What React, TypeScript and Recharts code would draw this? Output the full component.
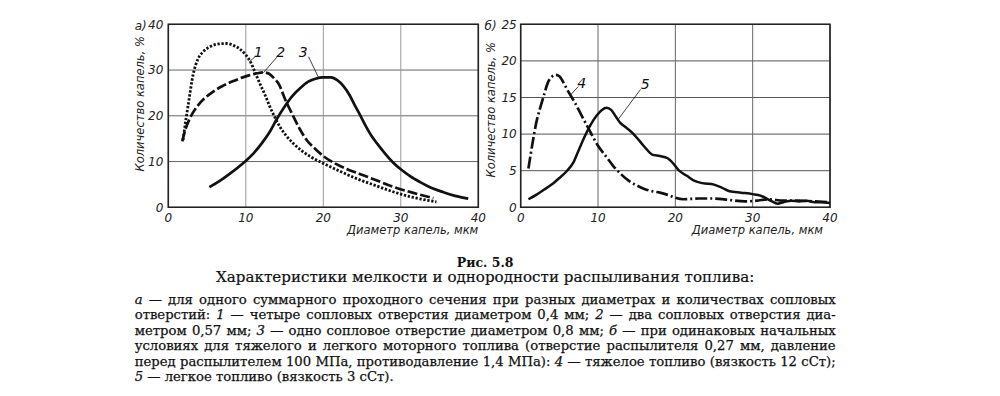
import React from 'react';
import { LineChart, Line, XAxis, YAxis, CartesianGrid, ReferenceArea, ReferenceDot, ReferenceLine } from 'recharts';

// ---- Chart а) ----
const xTicksA = [0, 10, 20, 30, 40];
const yTicksA = [0, 10, 20, 30, 40];
const curve1 = [
  { d: 1.9, n: 14.7 }, { d: 2.3, n: 19.5 }, { d: 2.6, n: 22.7 }, { d: 3.2, n: 29.0 }, { d: 3.8, n: 32.3 },
  { d: 4.5, n: 34.0 }, { d: 5.5, n: 35.2 }, { d: 6.5, n: 35.7 }, { d: 7.5, n: 35.8 }, { d: 8.4, n: 35.4 },
  { d: 9.3, n: 34.5 }, { d: 10.0, n: 33.3 }, { d: 10.6, n: 31.8 }, { d: 11.2, n: 29.5 }, { d: 11.8, n: 27.1 },
  { d: 12.5, n: 24.5 }, { d: 13.1, n: 22.0 }, { d: 13.8, n: 19.5 }, { d: 14.4, n: 17.6 }, { d: 15.2, n: 15.7 },
  { d: 16.1, n: 14.0 }, { d: 17.2, n: 12.4 }, { d: 18.3, n: 11.1 }, { d: 20.0, n: 9.6 }, { d: 22.0, n: 8.0 },
  { d: 24.7, n: 6.0 }, { d: 26.5, n: 4.9 }, { d: 29.0, n: 3.4 }, { d: 31.5, n: 2.2 }, { d: 34.6, n: 1.2 },
];
const curve2 = [
  { d: 1.8, n: 14.4 }, { d: 2.2, n: 17.0 }, { d: 2.8, n: 19.5 }, { d: 3.7, n: 22.0 }, { d: 4.8, n: 24.0 },
  { d: 5.8, n: 25.3 }, { d: 7.0, n: 26.5 }, { d: 8.4, n: 27.6 }, { d: 9.6, n: 28.4 }, { d: 10.5, n: 28.9 },
  { d: 11.5, n: 29.3 }, { d: 12.3, n: 29.5 }, { d: 13.0, n: 29.2 }, { d: 13.6, n: 28.3 }, { d: 14.3, n: 26.8 },
  { d: 15.1, n: 23.5 }, { d: 16.1, n: 20.0 }, { d: 17.0, n: 17.0 }, { d: 17.9, n: 14.6 }, { d: 19.0, n: 12.7 },
  { d: 20.0, n: 11.2 }, { d: 21.5, n: 9.6 }, { d: 23.0, n: 8.4 }, { d: 24.7, n: 7.3 }, { d: 27.0, n: 5.8 },
  { d: 29.0, n: 4.5 }, { d: 31.5, n: 3.2 }, { d: 34.2, n: 2.0 },
];
const curve3 = [
  { d: 5.3, n: 4.4 }, { d: 6.5, n: 5.6 }, { d: 8.0, n: 7.4 }, { d: 9.9, n: 10.0 }, { d: 11.0, n: 11.8 },
  { d: 12.2, n: 14.3 }, { d: 13.2, n: 16.8 }, { d: 14.0, n: 19.3 }, { d: 15.0, n: 22.0 }, { d: 16.0, n: 24.3 },
  { d: 17.0, n: 26.0 }, { d: 18.0, n: 27.4 }, { d: 19.0, n: 28.1 }, { d: 20.0, n: 28.4 }, { d: 21.0, n: 28.4 },
  { d: 21.8, n: 27.8 }, { d: 22.6, n: 26.5 }, { d: 23.4, n: 24.5 }, { d: 24.0, n: 22.5 }, { d: 24.7, n: 20.3 },
  { d: 25.5, n: 17.7 }, { d: 26.3, n: 15.4 }, { d: 27.0, n: 13.8 }, { d: 28.0, n: 11.7 }, { d: 29.0, n: 9.8 },
  { d: 30.0, n: 8.3 }, { d: 31.2, n: 6.8 }, { d: 32.5, n: 5.5 }, { d: 33.5, n: 4.6 }, { d: 35.5, n: 3.3 },
  { d: 37.0, n: 2.5 }, { d: 38.7, n: 1.9 },
];

// ---- Chart б) ----
const xTicksB = [0, 10, 20, 30, 40];
const yTicksB = [0, 5, 10, 15, 20, 25];
const curve4 = [
  { d: 1.0, n: 5.3 }, { d: 1.6, n: 9.2 }, { d: 2.0, n: 11.5 }, { d: 2.5, n: 13.5 }, { d: 3.0, n: 15.3 },
  { d: 3.5, n: 17.0 }, { d: 4.0, n: 17.8 }, { d: 4.5, n: 18.1 }, { d: 5.0, n: 17.9 }, { d: 5.4, n: 17.3 },
  { d: 6.0, n: 16.1 }, { d: 7.0, n: 14.3 }, { d: 8.0, n: 12.3 }, { d: 9.0, n: 10.3 }, { d: 10.0, n: 8.4 },
  { d: 11.0, n: 7.0 }, { d: 12.0, n: 5.6 }, { d: 13.0, n: 4.5 }, { d: 14.0, n: 3.6 }, { d: 15.0, n: 3.0 },
  { d: 16.0, n: 2.5 }, { d: 17.0, n: 2.2 }, { d: 18.0, n: 2.0 }, { d: 19.0, n: 1.7 }, { d: 20.0, n: 1.3 },
  { d: 21.0, n: 1.1 }, { d: 23.0, n: 1.2 }, { d: 25.0, n: 1.2 }, { d: 27.0, n: 1.0 }, { d: 29.0, n: 0.8 },
  { d: 30.5, n: 0.9 }, { d: 32.0, n: 1.1 }, { d: 34.0, n: 0.9 }, { d: 36.0, n: 0.9 }, { d: 38.0, n: 0.8 },
  { d: 40.0, n: 0.7 },
];
const curve5 = [
  { d: 1.0, n: 1.1 }, { d: 2.0, n: 1.7 }, { d: 3.0, n: 2.4 }, { d: 4.0, n: 3.1 }, { d: 5.0, n: 4.0 },
  { d: 6.0, n: 5.0 }, { d: 6.8, n: 6.1 }, { d: 7.5, n: 7.8 }, { d: 8.2, n: 9.5 }, { d: 9.0, n: 11.2 },
  { d: 9.8, n: 12.5 }, { d: 10.5, n: 13.3 }, { d: 11.1, n: 13.6 }, { d: 11.7, n: 13.3 }, { d: 12.3, n: 12.4 },
  { d: 12.9, n: 11.5 }, { d: 13.5, n: 11.0 }, { d: 14.5, n: 10.1 }, { d: 15.5, n: 8.9 }, { d: 16.3, n: 7.9 },
  { d: 17.0, n: 7.2 }, { d: 18.0, n: 7.0 }, { d: 19.0, n: 6.7 }, { d: 19.8, n: 5.9 }, { d: 20.5, n: 5.0 },
  { d: 21.5, n: 4.3 }, { d: 22.5, n: 3.6 }, { d: 23.5, n: 3.3 }, { d: 25.0, n: 3.1 }, { d: 26.0, n: 2.7 },
  { d: 27.0, n: 2.2 }, { d: 28.5, n: 2.0 }, { d: 30.0, n: 1.8 }, { d: 31.0, n: 1.6 }, { d: 31.8, n: 1.2 },
  { d: 32.5, n: 0.8 }, { d: 33.2, n: 0.5 }, { d: 34.0, n: 0.7 }, { d: 35.0, n: 0.9 }, { d: 36.0, n: 0.8 },
  { d: 37.0, n: 0.9 }, { d: 38.0, n: 0.7 }, { d: 39.0, n: 0.7 }, { d: 40.0, n: 0.6 },
];

// ---- annotations (curve numbers with leader lines) ----
const notesA = [
  { label: '1', lx: 11.6, ly: 34.0, from: { x: 11.2, y: 32.9 }, to: { x: 10.45, y: 31.8 } },
  { label: '2', lx: 14.5, ly: 34.0, from: { x: 14.0, y: 32.8 }, to: { x: 12.26, y: 29.4 } },
  { label: '3', lx: 17.4, ly: 34.0, from: { x: 18.1, y: 32.9 }, to: { x: 19.35, y: 28.5 } },
];
const notesB = [
  { label: '4', lx: 7.9, ly: 17.0, from: { x: 7.45, y: 16.5 }, to: { x: 6.4, y: 15.3 } },
  { label: '5', lx: 16.1, ly: 16.9, from: { x: 15.5, y: 16.1 }, to: { x: 12.6, y: 12.0 } },
];

const yTitle = 'Количество капель, %';
const xTitle = 'Диаметр капель, мкм';

const axisFont = "'DejaVu Sans', sans-serif";
const tickStyle = { fontFamily: axisFont, fontStyle: 'italic', fontSize: 12, fill: '#222' };
const INK = '#111';

const captionLines = [
  'а — для одного суммарного проходного сечения при разных диаметрах и количествах сопловых',
  'отверстий: 1 — четыре сопловых отверстия диаметром 0,4 мм; 2 — два сопловых отверстия диа-',
  'метром 0,57 мм; 3 — одно сопловое отверстие диаметром 0,8 мм; б — при одинаковых начальных',
  'условиях для тяжелого и легкого моторного топлива (отверстие распылителя 0,27 мм, давление',
  'перед распылителем 100 МПа, противодавление 1,4 МПа): 4 — тяжелое топливо (вязкость 12 сСт);',
  '5 — легкое топливо (вязкость 3 сСт).',
];

function italicize(line: string) {
  const parts = line.split(/((?:^|\s)(?:[абв12345]) —)/);
  return parts.map((p, i) => {
    const m = p.match(/^(\s?)([абв12345])( —)$/);
    if (m) {
      return (
        <React.Fragment key={i}>
          {m[1]}
          <i>{m[2]}</i>
          {m[3]}
        </React.Fragment>
      );
    }
    return <React.Fragment key={i}>{p}</React.Fragment>;
  });
}

function YTitle(props: any, tag: string, dx: number, dy: number, tagInset: number) {
  const vb = props.viewBox || {};
  const cx = vb.x + dx;
  const cy = vb.y + vb.height / 2 + dy;
  return (
    <g>
      <text
        x={cx}
        y={cy}
        transform={`rotate(-90 ${cx} ${cy})`}
        textAnchor="middle"
        dominantBaseline="central"
        style={{ fontFamily: axisFont, fontStyle: 'italic', fontSize: 11.5, fill: '#222' }}
      >
        {yTitle}
      </text>
      <text
        x={vb.x + vb.width - tagInset}
        y={vb.y + 2}
        textAnchor="end"
        dominantBaseline="central"
        style={{ fontFamily: axisFont, fontStyle: 'italic', fontSize: 12, fill: '#222' }}
      >
        {tag}
      </text>
    </g>
  );
}

function XTitle(props: any, inset: number) {
  const vb = props.viewBox || {};
  return (
    <text
      x={vb.x + vb.width - inset}
      y={vb.y + 23}
      textAnchor="end"
      dominantBaseline="central"
      style={{ fontFamily: axisFont, fontStyle: 'italic', fontSize: 11.5, fill: '#222' }}
    >
      {xTitle}
    </text>
  );
}

function renderNotes(notes: typeof notesA) {
  const out: any[] = [];
  notes.forEach((n, i) => {
    out.push(
      <ReferenceLine
        key={'l' + i}
        segment={[n.from, n.to]}
        stroke={INK}
        strokeWidth={0.8}
        ifOverflow="visible"
      />
    );
    out.push(
      <ReferenceDot
        key={'d' + i}
        x={n.lx}
        y={n.ly}
        r={0}
        fill="none"
        stroke="none"
        ifOverflow="visible"
        label={{
          value: n.label,
          position: 'center',
          style: { fontFamily: axisFont, fontStyle: 'italic', fontSize: 14, fill: '#111' },
        }}
      />
    );
  });
  return out;
}

export default function App() {
  return (
    <div
      style={{
        position: 'absolute',
        left: 0,
        top: 0,
        width: 1000,
        height: 396,
        background: '#fff',
        overflow: 'hidden',
      }}
    >
      <div style={{ position: 'absolute', left: 100, top: 0 }}>
        <LineChart width={400} height={250} margin={{ top: 24.3, right: 21.7, bottom: 22.7, left: 0 }}>
          <CartesianGrid vertical={false} stroke="#666" strokeWidth={1} />
          <CartesianGrid horizontal={false} stroke="#999" strokeWidth={1} />
          <XAxis
            type="number"
            dataKey="d"
            domain={[0, 40]}
            ticks={xTicksA}
            height={20}
            axisLine={false}
            tickLine={false}
            tickSize={0}
            tickMargin={6}
            tick={tickStyle}
            interval={0}
            label={{ content: (p: any) => XTitle(p, 0) }}
          />
          <YAxis
            type="number"
            dataKey="n"
            domain={[0, 40]}
            ticks={yTicksA}
            width={68.3}
            axisLine={false}
            tickLine={false}
            tickSize={0}
            tickMargin={5}
            tick={tickStyle}
            interval={0}
            label={{ content: (p: any) => YTitle(p, 'а)', 40, -12, 21.5) }}
          />
          <ReferenceArea x1={0} x2={40} y1={0} y2={40} fill="none" stroke="#222" strokeWidth={1.6} />
          <Line data={curve1} dataKey="n" type="monotone" dot={false} stroke={INK} strokeWidth={2.8}
            strokeDasharray="2.3 1.7" isAnimationActive={false} />
          <Line data={curve2} dataKey="n" type="monotone" dot={false} stroke={INK} strokeWidth={2.7}
            strokeDasharray="10 3" isAnimationActive={false} />
          <Line data={curve3} dataKey="n" type="monotone" dot={false} stroke={INK} strokeWidth={2.7}
            isAnimationActive={false} />
          {renderNotes(notesA)}
        </LineChart>
      </div>

      <div style={{ position: 'absolute', left: 450, top: 0 }}>
        <LineChart width={420} height={250} margin={{ top: 24.3, right: 40, bottom: 22.7, left: 0 }}>
          <CartesianGrid vertical={false} stroke="#555" strokeWidth={1} />
          <CartesianGrid horizontal={false} stroke="#666" strokeWidth={1} />
          <XAxis
            type="number"
            dataKey="d"
            domain={[0, 40]}
            ticks={xTicksB}
            height={20}
            axisLine={false}
            tickLine={false}
            tickSize={0}
            tickMargin={6}
            tick={tickStyle}
            interval={0}
            label={{ content: (p: any) => XTitle(p, 7) }}
          />
          <YAxis
            type="number"
            dataKey="n"
            domain={[0, 25]}
            ticks={yTicksB}
            width={70.7}
            axisLine={false}
            tickLine={false}
            tickSize={0}
            tickMargin={4}
            tick={tickStyle}
            interval={0}
            label={{ content: (p: any) => YTitle(p, 'б)', 41, -6, 24) }}
          />
          <ReferenceArea x1={0} x2={40} y1={0} y2={25} fill="none" stroke="#222" strokeWidth={1.6} />
          <Line data={curve4} dataKey="n" type="monotone" dot={false} stroke={INK} strokeWidth={2.7}
            strokeDasharray="12 3 2 3" isAnimationActive={false} />
          <Line data={curve5} dataKey="n" type="monotone" dot={false} stroke={INK} strokeWidth={2.5}
            isAnimationActive={false} />
          {renderNotes(notesB)}
        </LineChart>
      </div>

      <div
        style={{
          position: 'absolute',
          left: 134.7,
          width: 701,
          top: 255.5,
          textAlign: 'center',
          fontFamily: "'DejaVu Serif', serif",
          fontWeight: 'bold',
          fontSize: 12.5,
          lineHeight: '14px',
          color: '#111',
        }}
      >
        Рис. 5.8
      </div>
      <div
        style={{
          position: 'absolute',
          left: 134.7,
          width: 701,
          top: 267.7,
          textAlign: 'center',
          fontFamily: "'DejaVu Serif', serif",
          fontSize: 15.1,
          lineHeight: '18px',
          color: '#111',
          WebkitTextStroke: '0.2px #111',
        }}
      >
        Характеристики мелкости и однородности распыливания топлива:
      </div>
      <div
        style={{
          position: 'absolute',
          left: 134.7,
          width: 701,
          top: 291.8,
          fontFamily: "'DejaVu Serif', serif",
          fontSize: 13.2,
          lineHeight: '15.46px',
          color: '#111',
          WebkitTextStroke: '0.25px #111',
        }}
      >
        {captionLines.map((l, i) => (
          <div
            key={i}
            style={{
              whiteSpace: 'nowrap',
              textAlign: i < captionLines.length - 1 ? 'justify' : 'left',
              textAlignLast: i < captionLines.length - 1 ? 'justify' : 'left',
              height: 15.46,
            }}
          >
            {italicize(l)}
          </div>
        ))}
      </div>
    </div>
  );
}
